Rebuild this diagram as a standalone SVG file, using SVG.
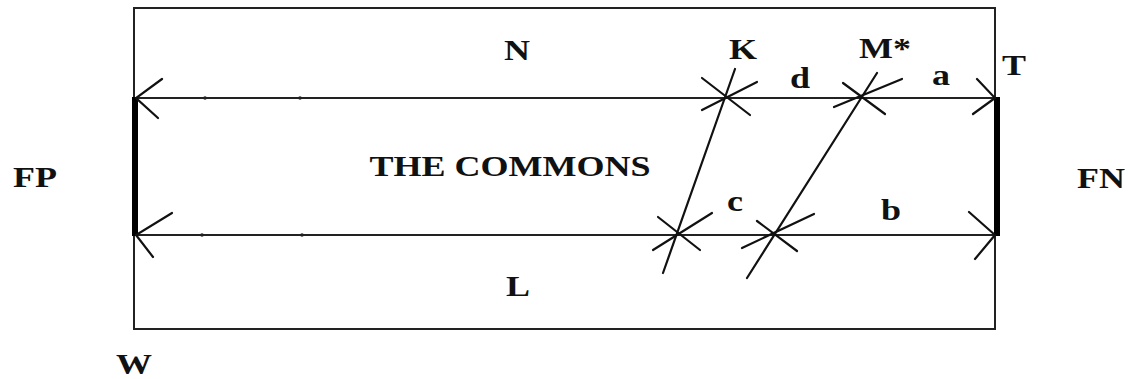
<svg xmlns="http://www.w3.org/2000/svg" width="1130" height="379" viewBox="0 0 1130 379">
<style>
.thin{stroke:#222;stroke-width:2;fill:none}
.ln{stroke:#111;stroke-width:2.2;fill:none;stroke-linecap:round}
.bar{stroke:#000;stroke-width:6;fill:none}
.lbl{font-family:"Liberation Serif","Times New Roman",serif;font-weight:bold;font-size:30px;fill:#111;text-anchor:middle}
.dot{fill:#222}
</style>
<rect width="1130" height="379" fill="#fff"/>
<g id="frame">
<rect class="thin" x="134" y="8" width="861" height="321"/>
</g>
<g id="connectors">
<line class="thin" x1="134" y1="98" x2="995" y2="98"/>
<line class="thin" x1="134" y1="235" x2="995" y2="235"/>
<line class="bar" x1="135" y1="97" x2="135" y2="236"/>
<line class="bar" x1="997" y1="97" x2="997" y2="236"/>
<path class="ln" d="M162,79 L136,98 L158,118 M172,213 L136,235 L153,257"/>
<path class="ln" d="M977,79 L995,98 L973,114 M969,212 L995,235 L975,259"/>
<circle class="dot" cx="205" cy="98" r="1.8"/>
<circle class="dot" cx="300" cy="98" r="1.8"/>
<circle class="dot" cx="202" cy="235" r="1.8"/>
<circle class="dot" cx="302" cy="235" r="1.8"/>
<line class="ln" x1="735" y1="69" x2="663" y2="273"/>
<path class="ln" d="M702,78 L750,115 M702,110 L757,82"/>
<path class="ln" d="M658,217 L700,250 M653,250 L712,213"/>
<line class="ln" x1="877" y1="73" x2="747" y2="278"/>
<path class="ln" d="M843,83 L885,114 M834,107 L902,79"/>
<path class="ln" d="M757,221 L797,251 M742,248 L814,214"/>
</g>
<g id="labels">
<g id="N"><text class="lbl" transform="translate(517,60) scale(1.2,1)">N</text></g>
<g id="K"><text class="lbl" transform="translate(743,59) scale(1.2,1)">K</text></g>
<g id="Mstar"><text class="lbl" transform="translate(885,58) scale(1.2,1)">M*</text></g>
<g id="T"><text class="lbl" transform="translate(1014,75) scale(1.2,1)">T</text></g>
<g id="d"><text class="lbl" transform="translate(800,88) scale(1.2,1)">d</text></g>
<g id="a"><text class="lbl" transform="translate(941,85) scale(1.2,1)">a</text></g>
<g id="commons"><text class="lbl" transform="translate(510,176) scale(1.2,1)">THE COMMONS</text></g>
<g id="FP"><text class="lbl" transform="translate(35,187) scale(1.2,1)">FP</text></g>
<g id="FN"><text class="lbl" transform="translate(1101,188) scale(1.2,1)">FN</text></g>
<g id="c"><text class="lbl" transform="translate(735,211) scale(1.2,1)">c</text></g>
<g id="b"><text class="lbl" transform="translate(891,220) scale(1.2,1)">b</text></g>
<g id="L"><text class="lbl" transform="translate(518,296) scale(1.2,1)">L</text></g>
<g id="W"><text class="lbl" transform="translate(134,374) scale(1.2,1)">W</text></g>
</g>
</svg>
